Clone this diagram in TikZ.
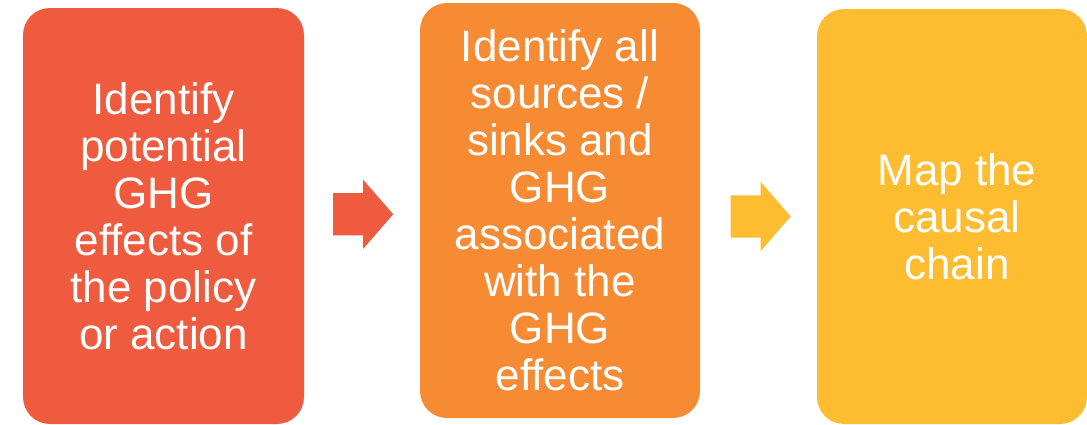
\documentclass[tikz,border=0pt]{standalone}
\usepackage{fontspec}
\setmainfont{Liberation Sans}
\usetikzlibrary{shapes.arrows,calc}

\definecolor{stepred}{HTML}{EF5B3F}
\definecolor{steporange}{HTML}{F78B34}
\definecolor{stepyellow}{HTML}{FEBD30}

\tikzset{
  stepbox/.style={rectangle, rounded corners=27pt, inner sep=0pt,
    text=white, align=center, font=\fontsize{44}{47}\selectfont},
  blockarrow/.style={single arrow, inner xsep=0pt, inner ysep=21pt,
    minimum height=60pt, single arrow head extend=13.5pt,
    single arrow tip angle=98, draw=none}
}

\begin{document}
\begin{tikzpicture}[x=1pt,y=-1pt]
			\useasboundingbox (0,0) rectangle (1087,424);
			\node[stepbox, fill=stepred, minimum width=281pt, minimum height=416pt] (idpot) at (163.5, 216) {Identify\\potential\\GHG\\effects of\\the policy\\or action};
			\node[stepbox, fill=steporange, minimum width=280pt, minimum height=415pt] (idsrc) at (560, 210.5) {Identify all\\sources /\\sinks and\\GHG\\associated\\with the\\GHG\\effects};
			\node[stepbox, fill=stepyellow, minimum width=270pt, minimum height=415pt] (mapch) at (952, 216.5) {};
			\node[stepbox] (mapchtext) at ($(mapch.center)+(5,0)$) {Map the\\causal\\chain};
			\node[blockarrow, fill=stepred] (arrA) at ($(idpot.east)!0.5!(idsrc.west)+(-8,1)$) {};
			\node[blockarrow, fill=stepyellow] (arrB) at ($(idsrc.east)!0.5!(mapch.west)+(-7,3)$) {};
		\end{tikzpicture}
\end{document}
